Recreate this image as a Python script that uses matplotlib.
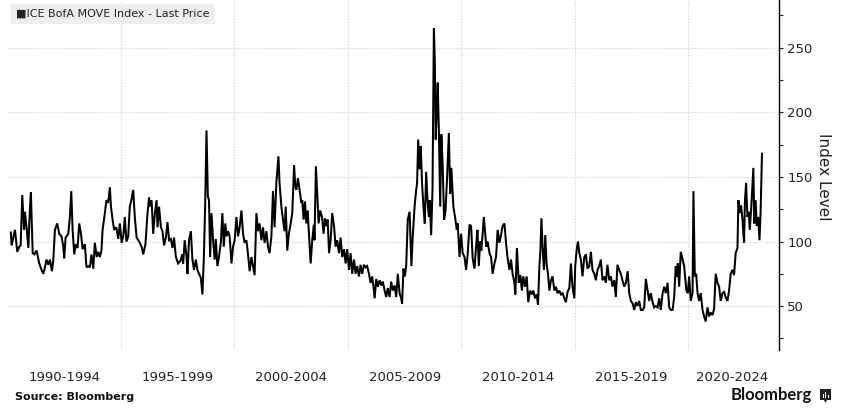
import matplotlib
matplotlib.use("Agg")
import matplotlib.pyplot as plt
from matplotlib.patches import Rectangle, Polygon

# ICE BofA MOVE Index (decimal year, index level)
dates = [
    1990.15, 1990.18, 1990.33, 1990.43, 1990.52, 1990.58, 1990.65, 1990.73, 1990.77, 1990.84,
    1990.92, 1990.98, 1991.03, 1991.11, 1991.18, 1991.28, 1991.40, 1991.50, 1991.58, 1991.65,
    1991.72, 1991.80, 1991.87, 1991.96, 1992.02, 1992.09, 1992.19, 1992.28, 1992.38, 1992.46,
    1992.50, 1992.56, 1992.68, 1992.75, 1992.81, 1992.87, 1992.94, 1993.01, 1993.09, 1993.16,
    1993.24, 1993.31, 1993.41, 1993.48, 1993.56, 1993.63, 1993.70, 1993.78, 1993.85, 1993.93,
    1994.00, 1994.07, 1994.14, 1994.19, 1994.29, 1994.36, 1994.44, 1994.51, 1994.56, 1994.63,
    1994.70, 1994.80, 1994.88, 1994.95, 1995.03, 1995.10, 1995.17, 1995.24, 1995.32, 1995.39,
    1995.46, 1995.54, 1995.61, 1995.69, 1995.80, 1995.91, 1995.98, 1996.08, 1996.17, 1996.24,
    1996.27, 1996.35, 1996.42, 1996.49, 1996.57, 1996.61, 1996.68, 1996.76, 1996.83, 1996.90,
    1996.98, 1997.05, 1997.12, 1997.20, 1997.27, 1997.34, 1997.42, 1997.52, 1997.62, 1997.70,
    1997.74, 1997.81, 1997.89, 1997.93, 1998.00, 1998.08, 1998.15, 1998.22, 1998.30, 1998.37,
    1998.44, 1998.52, 1998.59, 1998.65, 1998.71, 1998.77, 1998.83, 1998.88, 1998.93, 1998.99,
    1999.06, 1999.13, 1999.18, 1999.25, 1999.32, 1999.40, 1999.47, 1999.53, 1999.60, 1999.65,
    1999.72, 1999.79, 1999.87, 1999.94, 2000.01, 2000.09, 2000.16, 2000.23, 2000.31, 2000.38,
    2000.45, 2000.53, 2000.60, 2000.67, 2000.75, 2000.82, 2000.89, 2000.97, 2001.04, 2001.11,
    2001.19, 2001.26, 2001.33, 2001.41, 2001.48, 2001.55, 2001.63, 2001.70, 2001.77, 2001.85,
    2001.94, 2001.99, 2002.07, 2002.14, 2002.21, 2002.26, 2002.33, 2002.40, 2002.48, 2002.55,
    2002.63, 2002.68, 2002.73, 2002.80,
    2002.87, 2002.95, 2002.99, 2003.05, 2003.11, 2003.17, 2003.23, 2003.29, 2003.36, 2003.43,
    2003.50, 2003.53, 2003.59, 2003.65, 2003.71, 2003.78, 2003.86, 2003.93, 2003.99, 2004.05,
    2004.11, 2004.17, 2004.24, 2004.31, 2004.39, 2004.46, 2004.53, 2004.61, 2004.68, 2004.75,
    2004.83, 2004.90, 2004.97, 2005.05, 2005.12, 2005.19, 2005.27, 2005.34, 2005.41, 2005.49,
    2005.56, 2005.63, 2005.71, 2005.78, 2005.85, 2005.93, 2006.00, 2006.07, 2006.13, 2006.18,
    2006.25, 2006.32, 2006.40, 2006.47, 2006.54, 2006.62, 2006.69, 2006.76, 2006.84, 2006.91,
    2006.98, 2007.06, 2007.13, 2007.20, 2007.28, 2007.35, 2007.39, 2007.45, 2007.51, 2007.57,
    2007.64, 2007.72, 2007.76, 2007.80, 2007.86, 2007.94, 2008.01, 2008.05, 2008.10, 2008.16,
    2008.21, 2008.27, 2008.33, 2008.39, 2008.45, 2008.51, 2008.57, 2008.61, 2008.67, 2008.73,
    2008.79, 2008.83, 2008.87, 2008.92, 2008.96, 2009.01, 2009.07, 2009.12, 2009.18, 2009.24,
    2009.30, 2009.37, 2009.45, 2009.51, 2009.56, 2009.62,
    2009.65, 2009.74, 2009.80, 2009.84, 2009.92, 2009.99, 2010.06, 2010.14, 2010.21, 2010.28,
    2010.36, 2010.43, 2010.50, 2010.58, 2010.65, 2010.71, 2010.77, 2010.83, 2010.88, 2010.94,
    2010.99, 2011.05, 2011.10, 2011.16, 2011.24, 2011.31, 2011.38, 2011.46, 2011.53, 2011.60,
    2011.68, 2011.75, 2011.82, 2011.90, 2011.97, 2012.04, 2012.12, 2012.19, 2012.26, 2012.34,
    2012.38, 2012.45, 2012.53, 2012.60, 2012.67, 2012.73, 2012.81, 2012.88, 2012.95, 2013.03,
    2013.10, 2013.17, 2013.25, 2013.32, 2013.38, 2013.44, 2013.48, 2013.53, 2013.58, 2013.64,
    2013.70, 2013.76, 2013.82, 2013.88, 2013.95, 2014.02, 2014.10, 2014.17, 2014.24, 2014.32,
    2014.39, 2014.46, 2014.54, 2014.61, 2014.68, 2014.76, 2014.83, 2014.90, 2014.98, 2015.02,
    2015.08, 2015.14, 2015.20, 2015.27, 2015.34, 2015.42, 2015.49, 2015.56, 2015.64, 2015.71,
    2015.78, 2015.86, 2015.93, 2016.00,
    2016.08, 2016.15, 2016.22, 2016.30, 2016.37, 2016.44, 2016.52, 2016.59, 2016.66, 2016.74,
    2016.81, 2016.88, 2016.96, 2017.03, 2017.10, 2017.18, 2017.25, 2017.33, 2017.40, 2017.47,
    2017.55, 2017.62, 2017.69, 2017.77, 2017.84, 2017.91, 2017.99, 2018.06, 2018.13, 2018.21,
    2018.28, 2018.35, 2018.43, 2018.50, 2018.57, 2018.65, 2018.72, 2018.79, 2018.87, 2018.94,
    2019.01, 2019.09, 2019.16, 2019.23, 2019.31, 2019.38, 2019.45, 2019.50, 2019.54, 2019.60,
    2019.67, 2019.75, 2019.82, 2019.86, 2019.92, 2019.98, 2020.04, 2020.11, 2020.19, 2020.23,
    2020.29, 2020.35, 2020.41, 2020.48, 2020.55, 2020.63, 2020.70, 2020.77, 2020.85, 2020.92,
    2020.99, 2021.07, 2021.14, 2021.21, 2021.29, 2021.36, 2021.43, 2021.51, 2021.58, 2021.65,
    2021.73, 2021.80, 2021.87, 2021.95, 2022.02, 2022.09, 2022.17, 2022.21, 2022.27, 2022.33,
    2022.39, 2022.46, 2022.50, 2022.55, 2022.61, 2022.67, 2022.71, 2022.77, 2022.83, 2022.87,
    2022.91, 2022.97, 2023.02, 2023.08, 2023.14, 2023.19, 2023.25,
]
move = [
    107, 97, 109, 92, 96, 97, 136, 109, 123, 111,
    95, 123, 138, 91, 90, 93, 83, 78, 75, 80,
    86, 82, 86, 77, 86, 109, 114, 106, 104, 96,
    87, 103, 106, 119, 139, 109, 90, 98, 95, 114,
    106, 94, 98, 80, 81, 80, 90, 79, 99, 88,
    92, 88, 93, 109, 122, 132, 130, 142, 127, 117,
    109, 111, 102, 114, 99, 104, 119, 100, 104, 127,
    132, 140, 119, 103, 100, 96, 90, 98, 122, 134,
    127, 132, 106, 121, 132, 111, 127, 111, 108, 97,
    103, 115, 101, 102, 95, 103, 88, 83, 85, 90,
    83, 101, 88, 75, 101, 108, 86, 78, 86, 78,
    75, 72, 59, 86, 127, 186, 135, 132, 88, 122,
    101, 86, 102, 81, 88, 99, 122, 96, 114, 104,
    108, 104, 83, 96, 101, 119, 104, 111, 124, 106,
    99, 101, 90, 77, 88, 81, 74, 122, 108, 114,
    101, 111, 99, 108, 96, 91, 104, 139, 111, 146,
    166, 145, 127, 117, 108, 127, 93, 106, 114, 122,
    159, 143, 140, 149,
    140, 130, 132, 117, 131, 114, 124, 104, 83, 101,
    113, 101, 158, 137, 114, 124, 119, 106, 118, 112,
    117, 91, 101, 122, 112, 96, 101, 91, 103, 88,
    94, 83, 94, 78, 91, 75, 86, 75, 81, 73,
    82, 75, 82, 80, 81, 75, 68, 73, 65, 56,
    71, 65, 70, 66, 69, 62, 57, 64, 57, 69,
    62, 66, 57, 75, 60, 56, 52, 79, 73, 81,
    117, 123, 101, 81, 104, 127, 140, 145, 179, 156,
    174, 145, 127, 114, 154, 132, 119, 132, 105, 140,
    265, 241, 179, 202, 223, 186, 127, 183, 158, 117,
    123, 148, 184, 137, 157, 137,
    127, 117, 109, 114, 88, 106, 91, 88, 78, 90,
    113, 112, 87, 79, 96, 109, 81, 100, 93, 106,
    119, 107, 96, 100, 91, 88, 75, 83, 88, 109,
    99, 105, 112, 114, 99, 87, 78, 86, 75, 68,
    59, 95, 68, 74, 62, 73, 65, 73, 53, 62,
    59, 62, 56, 59, 51, 81, 91, 118, 96, 78,
    105, 82, 75, 62, 70, 73, 62, 65, 60, 62,
    59, 60, 56, 53, 61, 64, 83, 65, 56, 81,
    93, 100, 91, 86, 73, 88, 90, 79, 81, 92,
    78, 75, 70, 78,
    81, 86, 70, 73, 68, 82, 70, 73, 65, 70,
    57, 82, 78, 75, 70, 65, 68, 77, 60, 54,
    52, 47, 53, 50, 54, 47, 47, 49, 71, 62,
    54, 60, 53, 49, 50, 49, 56, 47, 60, 65,
    60, 68, 49, 47, 47, 57, 81, 73, 83, 65,
    92, 86, 81, 73, 62, 60, 73, 54, 60, 139,
    73, 75, 60, 54, 60, 47, 42, 38, 49, 42,
    45, 43, 48, 75, 68, 65, 54, 60, 61, 57,
    54, 62, 75, 78, 74, 91, 95, 132, 122, 128,
    117, 99, 132, 145, 119, 123, 109, 124, 143, 157,
    114, 132, 112, 119, 101, 123, 168,
]

period_starts = [1995, 2000, 2005, 2010, 2015, 2020]
period_mids = [1992.5, 1997.5, 2002.5, 2007.5, 2012.5, 2017.5, 2021.95]
period_labels = ["1990-1994", "1995-1999", "2000-2004", "2005-2009",
                 "2010-2014", "2015-2019", "2020-2024"]
y_ticks = [50, 100, 150, 200, 250]
y_minor = [25, 75, 125, 175, 225, 275]

W, H = 846, 416
fig = plt.figure(figsize=(W / 100, H / 100), dpi=100)
ax = fig.add_axes([7.5 / W, 1 - 350 / H, (779 - 7.5) / W, 350 / H])

ax.plot(dates, move, color="black", lw=1.45, solid_joinstyle="miter")
ax.set_xlim(1990, 2024)
ax.set_ylim(16, 287)

for s in ["top", "left", "bottom"]:
    ax.spines[s].set_visible(False)
ax.spines["right"].set_linewidth(1.0)

ax.yaxis.tick_right()
ax.set_yticks(y_ticks)
ax.set_yticks(y_minor, minor=True)
ax.tick_params(axis="y", which="both", direction="out", length=3, width=0.8,
               pad=3, labelsize=9.5, colors="#222222")

ax.set_xticks(period_starts)
ax.set_xticklabels([])
ax.set_xticks(period_mids, minor=True)
ax.set_xticklabels(period_labels, minor=True)
ax.tick_params(axis="x", which="both", length=0, pad=15, labelsize=9.5,
               labelcolor="#222222")

dots = (0, (1, 1.5))
ax.grid(axis="y", which="major", ls=dots, color="#d2d2d2", lw=0.8)
ax.grid(axis="x", which="major", ls=dots, color="#d2d2d2", lw=0.8)

fig.text(823 / W, 1 - 177 / H, "Index Level", rotation=270, ha="center",
         va="center", fontsize=11, color="#222222")

fig.text(16 / W, 1 - 14 / H, "\u25a0ICE BofA MOVE Index - Last Price", fontsize=8,
         ha="left", va="center", color="#222222",
         bbox=dict(boxstyle="square,pad=0.45", fc="#efefef", ec="none"))

fig.text(15 / W, 1 - 396.5 / H, "Source: Bloomberg", fontsize=8, fontweight="bold",
         ha="left", va="center", color="#111111")
fig.text(812 / W, 1 - 395 / H, "Bloomberg", fontsize=12, fontweight="bold",
         family="Lato", ha="right", va="center", color="#111111")

# small logo mark next to the Bloomberg wordmark
fig.add_artist(Rectangle((820 / W, 1 - 400 / H), 11 / W, 11 / H,
                         transform=fig.transFigure, fc="#222222", ec="none"))
fig.add_artist(Polygon([(824 / W, 1 - 400 / H), (827 / W, 1 - 400 / H),
                        (825.5 / W, 1 - 403 / H)],
                       transform=fig.transFigure, fc="#222222", ec="none"))
for bx, bh in [(822.5, 4), (825, 6), (827.5, 3)]:
    fig.add_artist(Rectangle((bx / W, 1 - 398 / H), 1.2 / W, bh / H,
                             transform=fig.transFigure, fc="white", ec="none"))

fig.savefig("out.png", dpi=100)
